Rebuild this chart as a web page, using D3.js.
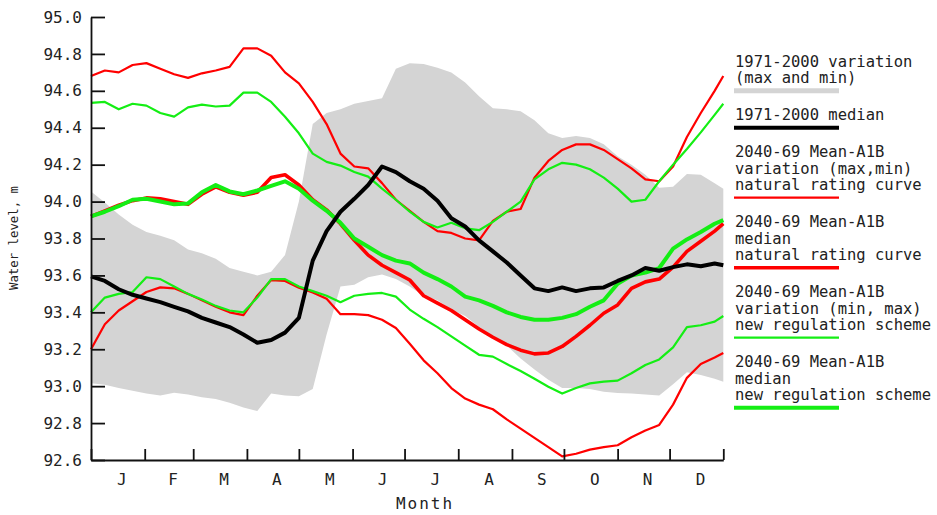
<!DOCTYPE html>
<html>
<head>
<meta charset="utf-8">
<script src="https://cdn.jsdelivr.net/npm/d3@7/dist/d3.min.js"></script>
<style>
body { margin: 0; background: #fff; }
text { font-family: "DejaVu Sans Mono", monospace; fill: #222; }
</style>
</head>
<body>
<svg id="chart" width="937" height="515"></svg>
<script>
// day of year for each sample
var days = [0,8,16,24,32,40,48,56,64,72,80,88,96,104,112,120,128,136,144,152,160,168,176,184,
  192,200,208,216,224,232,240,248,256,264,272,280,288,296,304,312,320,328,336,344,352,360,365];

// 1971-2000 variation (max and min)
var obsMax = [94.055,93.995,93.93,93.875,93.835,93.815,93.79,93.74,93.72,93.69,93.64,93.62,93.60,93.62,93.71,94.0,94.42,94.48,94.50,94.53,94.545,94.56,94.72,94.75,
  94.745,94.725,94.70,94.645,94.57,94.505,94.50,94.49,94.44,94.37,94.345,94.355,94.345,94.31,94.245,94.20,94.145,94.075,94.08,94.15,94.145,94.10,94.07];
var obsMin = [93.016,93.008,92.99,92.975,92.96,92.95,92.965,92.955,92.94,92.93,92.91,92.885,92.865,92.96,92.95,92.945,92.985,93.28,93.54,93.55,93.59,93.605,93.58,93.54,
  93.49,93.465,93.415,93.38,93.32,93.265,93.22,93.15,93.09,93.035,92.99,92.99,92.985,92.97,92.963,92.96,92.955,92.95,93.01,93.075,93.06,93.04,93.024];
// 1971-2000 median
var obsMedian = [93.595,93.57,93.525,93.495,93.475,93.455,93.43,93.405,93.37,93.345,93.32,93.28,93.235,93.25,93.29,93.37,93.68,93.84,93.945,94.015,94.09,94.19,94.16,94.11,
  94.07,94.005,93.91,93.865,93.79,93.73,93.67,93.60,93.53,93.515,93.535,93.515,93.53,93.535,93.57,93.60,93.64,93.625,93.645,93.66,93.65,93.665,93.655];

// 2040-69 Mean-A1B, natural rating curve
var natMax = [94.68,94.71,94.70,94.74,94.75,94.72,94.69,94.67,94.695,94.71,94.73,94.83,94.83,94.79,94.70,94.64,94.54,94.42,94.26,94.19,94.18,94.10,94.01,93.95,
  93.89,93.84,93.83,93.80,93.79,93.895,93.945,93.96,94.13,94.22,94.28,94.31,94.31,94.28,94.23,94.18,94.12,94.11,94.19,94.35,94.48,94.60,94.68];
var natMin = [93.20,93.335,93.41,93.46,93.51,93.535,93.53,93.50,93.465,93.43,93.40,93.385,93.49,93.575,93.57,93.533,93.508,93.473,93.39,93.39,93.385,93.36,93.315,93.23,
  93.14,93.07,92.99,92.933,92.90,92.875,92.82,92.77,92.72,92.67,92.62,92.634,92.656,92.67,92.68,92.723,92.76,92.79,92.90,93.045,93.12,93.155,93.18];
var natMedian = [93.92,93.95,93.98,94.005,94.02,94.015,94.0,93.985,94.04,94.08,94.05,94.035,94.05,94.13,94.145,94.09,94.01,93.955,93.88,93.79,93.71,93.655,93.615,93.575,
  93.49,93.45,93.41,93.36,93.31,93.265,93.225,93.195,93.175,93.18,93.215,93.27,93.33,93.395,93.44,93.53,93.565,93.58,93.645,93.73,93.785,93.84,93.88];

// 2040-69 Mean-A1B, new regulation scheme
var regMax = [94.535,94.54,94.50,94.53,94.52,94.48,94.46,94.51,94.525,94.515,94.52,94.59,94.59,94.54,94.46,94.37,94.26,94.215,94.195,94.16,94.135,94.07,94.01,93.945,
  93.89,93.86,93.885,93.855,93.845,93.89,93.945,94.0,94.12,94.175,94.21,94.20,94.175,94.13,94.07,94.0,94.01,94.11,94.20,94.285,94.375,94.47,94.53];
var regMin = [93.40,93.48,93.50,93.51,93.59,93.58,93.54,93.50,93.47,93.435,93.41,93.40,93.48,93.58,93.58,93.54,93.515,93.49,93.455,93.49,93.50,93.505,93.485,93.415,
  93.365,93.32,93.27,93.22,93.17,93.16,93.12,93.082,93.04,92.997,92.96,92.99,93.015,93.025,93.03,93.07,93.115,93.145,93.21,93.32,93.33,93.35,93.38];
var regMedian = [93.92,93.945,93.975,94.01,94.015,94.0,93.985,93.99,94.05,94.09,94.055,94.04,94.06,94.085,94.11,94.07,94.005,93.95,93.885,93.80,93.755,93.71,93.68,93.665,
  93.615,93.58,93.54,93.485,93.465,93.435,93.40,93.375,93.36,93.36,93.37,93.39,93.43,93.465,93.555,93.60,93.615,93.64,93.745,93.795,93.835,93.88,93.90];

var monthStarts = [0,31,59,90,120,151,181,212,243,273,304,334,365];
var monthLabels = ["J","F","M","A","M","J","J","A","S","O","N","D"];
var yTicks = [92.6,92.8,93.0,93.2,93.4,93.6,93.8,94.0,94.2,94.4,94.6,94.8,95.0];

var legendItems = [
  {lines: ["1971-2000 variation", "(max and min)"], key: "band"},
  {lines: ["1971-2000 median"], key: "obsMedian"},
  {lines: ["2040-69 Mean-A1B", "variation (max,min)", "natural rating curve"], key: "natRange"},
  {lines: ["2040-69 Mean-A1B", "median", "natural rating curve"], key: "natMedian"},
  {lines: ["2040-69 Mean-A1B", "variation (min, max)", "new regulation scheme"], key: "regRange"},
  {lines: ["2040-69 Mean-A1B", "median", "new regulation scheme"], key: "regMedian"}
];

var RED = "#ff0000", GREEN = "#14ee14", GREY = "#d4d4d4";
var styles = {
  band: {color: GREY, width: 5},
  obsMedian: {color: "#000", width: 4},
  natRange: {color: RED, width: 2.2},
  natMedian: {color: RED, width: 3.6},
  regRange: {color: GREEN, width: 2.2},
  regMedian: {color: GREEN, width: 4}
};

var svg = d3.select("#chart");
var x = d3.scaleLinear().domain([0, 365]).range([91, 723.3]);
var y = d3.scaleLinear().domain([92.6, 95.0]).range([460, 17]);

// grey band
var area = d3.area()
  .x(function(d, i) { return x(days[i]); })
  .y0(function(d, i) { return y(obsMin[i]); })
  .y1(function(d, i) { return y(obsMax[i]); });
svg.append("path").datum(days).attr("d", area).attr("fill", GREY);

var line = d3.line()
  .x(function(d, i) { return x(days[i]); })
  .y(function(d) { return y(d); });

function drawLine(values, st) {
  svg.append("path").datum(values)
    .attr("d", line)
    .attr("fill", "none")
    .attr("stroke", st.color)
    .attr("stroke-width", st.width)
    .attr("stroke-linejoin", "round");
}

drawLine(natMax, styles.natRange);
drawLine(natMin, styles.natRange);
drawLine(regMax, styles.regRange);
drawLine(regMin, styles.regRange);
drawLine(natMedian, styles.natMedian);
drawLine(regMedian, styles.regMedian);
drawLine(obsMedian, styles.obsMedian);

// axes
var yAxis = d3.axisLeft(y).tickValues(yTicks).tickSize(-14).tickSizeOuter(0).tickPadding(9)
  .tickFormat(d3.format(".1f"));
var gy = svg.append("g").attr("transform", "translate(91,0)").call(yAxis);

var xAxis = d3.axisBottom(x).tickValues(monthStarts).tickSize(-11).tickSizeOuter(0).tickFormat("");
var gx = svg.append("g").attr("transform", "translate(0,460)").call(xAxis);

[gy, gx].forEach(function(g) {
  g.selectAll("path, line").attr("stroke", "#111").attr("stroke-width", 1.8);
  g.selectAll("text").attr("font-family", "DejaVu Sans Mono, monospace")
    .attr("font-size", 16).attr("fill", "#222");
});

svg.append("g").selectAll("text").data(monthLabels).enter().append("text")
  .attr("x", function(d, i) { return x((monthStarts[i] + monthStarts[i + 1]) / 2) + 4; })
  .attr("y", 485)
  .attr("text-anchor", "middle")
  .attr("font-size", 16)
  .text(function(d) { return d; });

svg.append("text")
  .attr("x", 425).attr("y", 509)
  .attr("text-anchor", "middle")
  .attr("font-size", 16)
  .attr("letter-spacing", 2)
  .text("Month");

svg.append("text")
  .attr("transform", "translate(18,238) rotate(-90)")
  .attr("text-anchor", "middle")
  .attr("font-family", "DejaVu Sans, sans-serif")
  .attr("font-size", 13)
  .attr("textLength", 104)
  .attr("lengthAdjust", "spacingAndGlyphs")
  .text("Water level, m");

// legend
var lg = svg.append("g");
var baseY = 66.7, lineH = 16.5;
legendItems.forEach(function(item) {
  item.lines.forEach(function(t, j) {
    lg.append("text")
      .attr("x", 735).attr("y", baseY + j * lineH)
      .attr("font-size", 15.5)
      .text(t);
  });
  var ly = baseY + (item.lines.length - 1) * lineH + 7.5;
  var st = styles[item.key];
  lg.append("line")
    .attr("x1", 734).attr("x2", 839).attr("y1", ly).attr("y2", ly)
    .attr("stroke", st.color).attr("stroke-width", st.width);
  baseY = ly + 29.5;
});
</script>
</body>
</html>
